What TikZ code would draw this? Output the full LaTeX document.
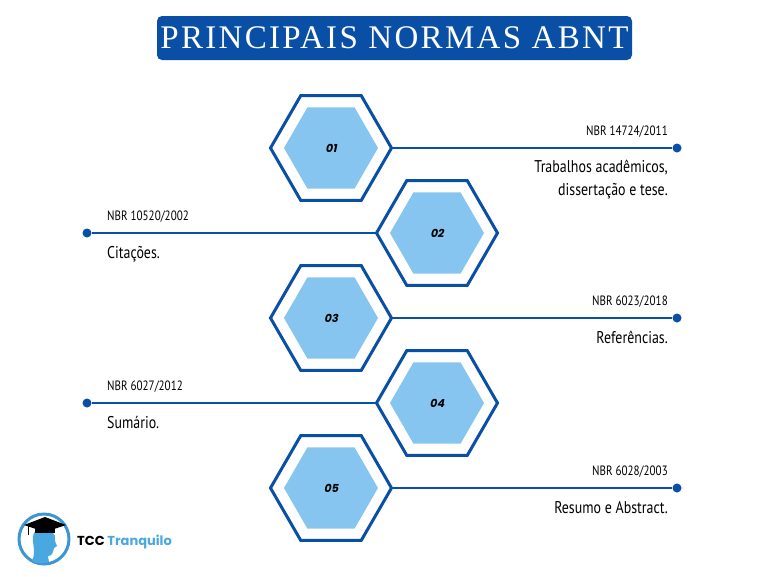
\documentclass[tikz,border=0pt]{standalone}
\usepackage{fontspec}
\setmainfont{PT Sans}[FakeStretch=0.82]
\newfontfamily\titlefont{Liberation Serif}[LetterSpace=7]
\newfontfamily\logofont{Poppins}
\newfontfamily\numfont{Poppins}[FakeSlant=0.2]
\definecolor{dblue}{HTML}{0A4FA6}
\definecolor{lblue}{HTML}{85C5F0}
\definecolor{lgblue}{HTML}{4AA8E0}
\usetikzlibrary{shapes.geometric}
\begin{document}
\begin{tikzpicture}[x=1pt,y=-1pt,
  outer/.style={regular polygon,regular polygon sides=6,minimum size=121pt,inner sep=0pt,outer sep=0pt,draw=dblue,line width=3pt,fill=white},
  inner/.style={regular polygon,regular polygon sides=6,minimum size=94pt,inner sep=0pt,fill=lblue,font=\numfont\bfseries\fontsize{11}{11}\selectfont},
  conn/.style={dblue,line width=2.2pt},
  dot/.style={circle,fill=dblue,minimum size=9pt,inner sep=0pt},
  lab/.style={font=\fontsize{13.5}{14}\selectfont,inner sep=0pt},
  desc/.style={font=\fontsize{17}{23}\selectfont,inner sep=0pt}]
\useasboundingbox[fill=white] (0,0) rectangle (768,576);
\node[fill=dblue,rounded corners=5pt,minimum width=475pt,minimum height=44pt,text=white,font=\titlefont\fontsize{33}{33}\selectfont] (title) at (394.5,38) {PRINCIPAIS NORMAS ABNT};
\foreach \n/\y/\code in {1/148/NBR 14724\slash 2011,3/318/NBR 6023\slash 2018,5/488/NBR 6028\slash 2003}{
  \node[dot] (d\n) at (677,\y) {};
  \draw[conn] (331,\y) -- (d\n);
  \node[outer] (o\n) at (331,\y) {};
  \node[inner] (i\n) at (331,\y) {0\n};
  \node[lab,anchor=base east] (c\n) at (668,\y-13) {\code};
}
\foreach \n/\y/\code in {2/233/NBR 10520\slash 2002,4/403/NBR 6027\slash 2012}{
  \node[dot] (d\n) at (87,\y) {};
  \draw[conn] (437,\y) -- (d\n);
  \node[outer] (o\n) at (437,\y) {};
  \node[inner] (i\n) at (437,\y) {0\n};
  \node[lab,anchor=base west] (c\n) at (107,\y-13) {\code};
}
\node[desc,anchor=base east] (t1) at (668,172) {Trabalhos acadêmicos,};
\node[desc,anchor=base east] (t1b) at (668,195) {dissertação e tese.};
\node[desc,anchor=base east] (t3) at (668,343) {Referências.};
\node[desc,anchor=base east] (t5) at (668,513) {Resumo e Abstract.};
\node[desc,anchor=base west] (t2) at (107,258) {Citações.};
\node[desc,anchor=base west] (t4) at (107,428) {Sumário.};
% logo
\draw[lgblue!80!dblue,line width=3pt] (44,539) circle (25);
\fill[lgblue] (40,528) .. controls (52,526) and (56,534) .. (55,541) -- (57,546) -- (54,548) .. controls (53,553) and (52,556) .. (48,556) -- (49,562) .. controls (44,564) and (36,564) .. (32,561) .. controls (35,555) and (34,548) .. (33,542) .. controls (32,535) and (34,530) .. (40,528) -- cycle;
\fill[black] (24,525) -- (45,517) -- (66,525) -- (45,532) -- cycle;
\fill[black] (35,527) rectangle (55,533);
\draw[black,line width=1pt] (28,526) -- (28,535);
\node[inner sep=0pt,anchor=base west,font=\logofont\bfseries\fontsize{13}{13}\selectfont] (logo) at (77,545) {TCC \textcolor{lgblue}{Tranquilo}};
\end{tikzpicture}
\end{document}
